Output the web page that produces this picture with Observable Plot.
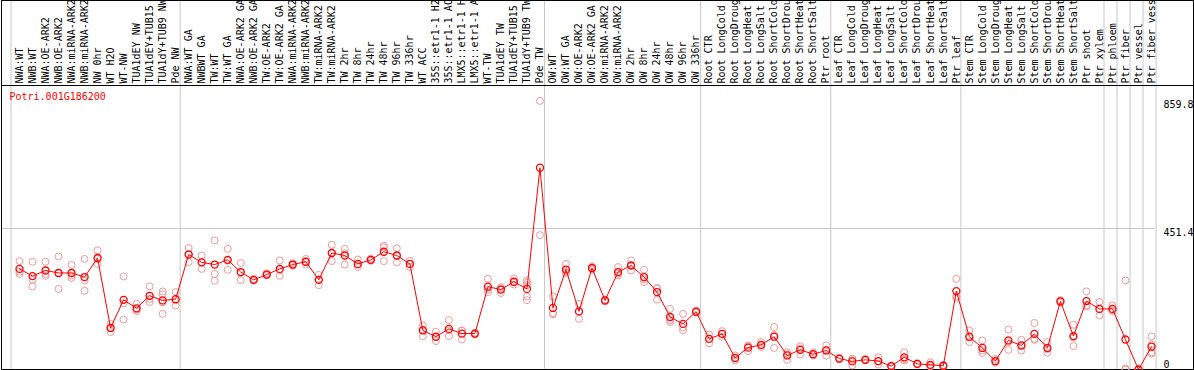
<!DOCTYPE html>
<html><head><meta charset="utf-8">
<script src="https://cdn.jsdelivr.net/npm/d3@7"></script>
<script src="https://cdn.jsdelivr.net/npm/@observablehq/plot@0.6"></script>
<style>body{margin:0;background:#fff}</style>
</head><body><div id="chart"></div>
<script>
const geneId = "Potri.001G186200";
const categories = [
  "NWA:WT","NWB:WT","NWA:OE-ARK2","NWB:OE-ARK2","NWA:miRNA-ARK2","NWB:miRNA-ARK2","NW 0hr","WT H2O","WT-NW",
  "TUA1dEY NW","TUA1dEY+TUB15 NW","TUA1dY+TUB9 NW","Pde NW",
  "NWA:WT GA","NWBWT GA","TW:WT","TW:WT GA","NWA:OE-ARK2 GA","NWB:OE-ARK2 GA","TW:OE-ARK2","TW:OE-ARK2 GA",
  "NWA:miRNA-ARK2 GA","NWB:miRNA-ARK2 GA","TW:miRNA-ARK2","TW:miRNA-ARK2 GA",
  "TW 2hr","TW 8hr","TW 24hr","TW 48hr","TW 96hr","TW 336hr","WT ACC",
  "35S::etr1-1 H2O","35S::etr1-1 ACC","LMX5::etr1-1 H2O","LMX5::etr1-1 ACC",
  "WT-TW","TUA1dEY TW","TUA1dEY+TUB15 TW","TUA1dY+TUB9 TW","Pde TW",
  "OW:WT","OW:WT GA","OW:OE-ARK2","OW:OE-ARK2 GA","OW:miRNA-ARK2","OW:miRNA-ARK2 GA",
  "OW 2hr","OW 8hr","OW 24hr","OW 48hr","OW 96hr","OW 336hr",
  "Root CTR","Root LongCold","Root LongDrought","Root LongHeat","Root LongSalt",
  "Root ShortCold","Root ShortDrought","Root ShortHeat","Root ShortSalt","Ptr root",
  "Leaf CTR","Leaf LongCold","Leaf LongDrought","Leaf LongHeat","Leaf LongSalt",
  "Leaf ShortCold","Leaf ShortDrought","Leaf ShortHeat","Leaf ShortSalt","Ptr leaf",
  "Stem CTR","Stem LongCold","Stem LongDrought","Stem LongHeat","Stem LongSalt",
  "Stem ShortCold","Stem ShortDrought","Stem ShortHeat","Stem ShortSalt",
  "Ptr shoot","Ptr xylem","Ptr phloem","Ptr fiber","Ptr vessel","Ptr fiber vessel"
];
const means = [
  322,299,317,309,309,296,357,133,223,196,236,221,225,
  368,343,336,351,312,287,304,322,336,345,287,373,365,338,351,377,365,338,125,105,130,115,115,265,256,281,258,646,
  197,320,186,325,221,312,333,296,248,168,146,185,
  98,114,37,70,79,105,45,63,49,61,
  35,26,31,27,11,39,18,15,12,251,
  105,69,27,93,77,114,69,218,107,219,194,194,96,0,73
];
const replicates = [
  [347,306,313],[345,287,266],[345,300,306],[362,258,309],[335,293,300],[354,285,252],[381,354,338],
  [120,146,133],[298,160,212],[210,187,192],[266,216,226],[250,240,215,178],[248,205,222],
  [389,344,370],[365,322,343],[413,306,284],[386,319,348],[341,286,310],[290,284,287],[308,301,304],
  [349,300,318],[340,332,336],[354,336,345],[303,270,288],[399,347,373],[386,336,372],[352,328,335],
  [355,348,351],[396,391,347],[388,343,364],[348,328,338],[141,106,128],[121,91,104],[158,107,125],
  [125,96,124],[118,112,115],[290,248,257],[264,245,259],[292,272,279],[285,278,270,234,222],[859.8,430],
  [234,180,177],[338,309,313],[210,162,186],[330,320,325],[224,218,221],[328,301,307],[349,317,333],
  [319,280,289],[261,224,259],[194,152,158],[178,125,135],[188,182,185],
  [112,84,98],[123,105,114],[45,29,37],[77,59,74],[88,72,77],[136,69,110],[55,31,49],[74,48,67],
  [55,45,47],[77,44,62],
  [37,33,35],[13,30,35],[33,29,31],[39,16,26],[11,13,9],[55,29,33],[20,16,18],[23,10,12],[12,10,14],
  [290,234,229],
  [125,88,102],[93,53,61],[34,22,25],[128,63,88],[95,61,75],[149,95,98],[88,54,65],[222,214,218],
  [143,75,103],[250,202,205],[216,173,193],[205,187,190],[285,3,0],[0,0,0],[106,55,51,80]
];
const groupEnds = [-1,12,40,52,62,72,83,84,85,86,87];
const yTicks = [0, 451.4, 859.8];

const meanData = means.map((v, i) => ({i, v}));
const repData = replicates.flatMap((r, i) => r.map(v => ({i, v})));
const font = "'DejaVu Sans Mono', monospace";
const grid = "#c8c8c8";

const chart = Plot.plot({
  width: 1194, height: 370,
  marginTop: 85, marginBottom: 1, marginLeft: 1, marginRight: 1,
  style: {fontFamily: font, fontSize: "10px", background: "#fff"},
  x: {type: "linear", domain: [0, categories.length - 1], range: [19, 1151], axis: null, label: null},
  y: {domain: [0, 909.2], axis: null, label: null},
  marks: [
    Plot.ruleX(groupEnds, {x: d => d + 0.35, stroke: grid, strokeWidth: 1, insetTop: -85}),
    Plot.ruleY(yTicks.slice(1, 2), {stroke: grid, strokeWidth: 1, insetRight: 38}),
    Plot.frame({stroke: "black", insetTop: -85}),
    Plot.frame({stroke: "black", anchor: "top"}),
    Plot.axisX({
      anchor: "top", ticks: d3.range(categories.length), tickFormat: i => categories[i], label: null,
      tickSize: 0, tickPadding: 2, tickRotate: -90, fontSize: 10, fontFamily: font, fill: "black"
    }),
    Plot.text(yTicks.filter(d => d > 0), {y: d => d, text: d => String(d), frameAnchor: "right", dx: -30,
      textAnchor: "start", lineAnchor: "top", fill: "black"}),
    Plot.text(yTicks.filter(d => d === 0), {y: d => d, text: d => String(d), frameAnchor: "right", dx: -30, dy: -2,
      textAnchor: "start", lineAnchor: "bottom", fill: "black"}),
    Plot.text([geneId], {frameAnchor: "top-left", dx: 8, dy: 7, textAnchor: "start", lineAnchor: "top", fill: "red"}),
    Plot.dot(repData, {x: "i", y: "v", r: 3.5, stroke: "#f09a9a", fill: "none", strokeWidth: 1}),
    Plot.line(meanData, {x: "i", y: "v", stroke: "red", strokeWidth: 1}),
    Plot.dot(meanData, {x: "i", y: "v", r: 3.5, stroke: "red", fill: "none", strokeWidth: 1.3})
  ]
});
document.getElementById("chart").append(chart);
</script>
</body></html>
